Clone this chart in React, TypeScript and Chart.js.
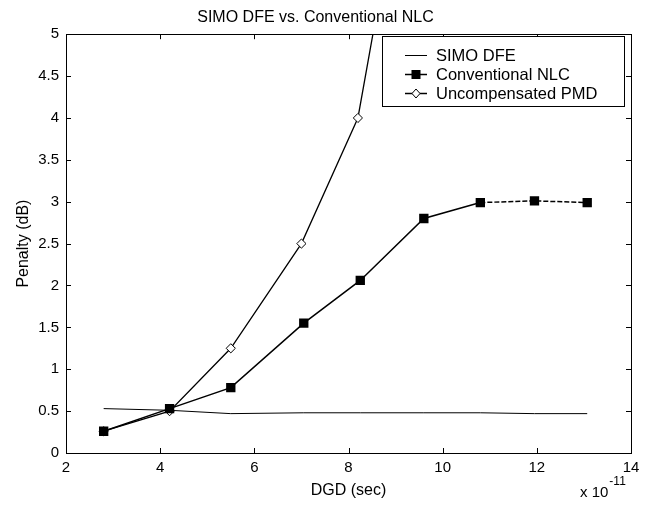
import React, { useEffect, useRef } from 'react';
import { Chart, registerables } from 'chart.js';

Chart.register(...registerables);

const titleText = 'SIMO DFE vs. Conventional NLC';
const xTitle = 'DGD (sec)';
const yTitle = 'Penalty (dB)';
const xExponentBase = 'x 10';
const xExponent = '-11';

const dgdX = [2.8, 4.2, 5.5, 7.05, 8.25, 9.6, 10.8, 11.95, 13.07];
const simoDfe = [0.53, 0.51, 0.47, 0.48, 0.48, 0.48, 0.48, 0.47, 0.47];
const conventionalNlc = [0.26, 0.53, 0.78, 1.55, 2.06, 2.8, 2.99, 3.01, 2.99];
const pmdX = [2.8, 4.2, 5.5, 7.0, 8.2, 9.6];
const uncompensatedPmd = [0.26, 0.5, 1.25, 2.5, 4.0, 8.4];

const seriesNames = ['SIMO DFE', 'Conventional NLC', 'Uncompensated PMD'];

const xTicks = [2, 4, 6, 8, 10, 12, 14];
const xTickLabels = ['2', '4', '6', '8', '10', '12', '14'];
const yTicks = [0, 0.5, 1, 1.5, 2, 2.5, 3, 3.5, 4, 4.5, 5];
const yTickLabels = ['0', '0.5', '1', '1.5', '2', '2.5', '3', '3.5', '4', '4.5', '5'];

const FONT = '"Liberation Sans", Arial, Helvetica, sans-serif';

const framePlugin = {
  id: 'frameTicks',
  afterDraw(chart: any) {
    const { ctx, chartArea: a, scales } = chart;
    const xs = scales.x;
    const ys = scales.y;
    ctx.save();
    ctx.strokeStyle = '#000';
    ctx.lineWidth = 1;
    ctx.strokeRect(Math.round(a.left) + 0.5, Math.round(a.top) + 0.5, Math.round(a.right - a.left), Math.round(a.bottom - a.top));
    const L = 5;
    ctx.beginPath();
    xTicks.forEach((v) => {
      const px = Math.round(xs.getPixelForValue(v)) + 0.5;
      ctx.moveTo(px, a.bottom);
      ctx.lineTo(px, a.bottom - L);
      ctx.moveTo(px, a.top);
      ctx.lineTo(px, a.top + L);
    });
    yTicks.forEach((v) => {
      const py = Math.round(ys.getPixelForValue(v)) + 0.5;
      ctx.moveTo(a.left, py);
      ctx.lineTo(a.left + L, py);
      ctx.moveTo(a.right, py);
      ctx.lineTo(a.right - L, py);
    });
    ctx.stroke();

    // exponent label
    ctx.fillStyle = '#000';
    ctx.textBaseline = 'middle';
    ctx.textAlign = 'left';
    ctx.font = `15px ${FONT}`;
    ctx.fillText(xExponentBase, 580, 493);
    const w = ctx.measureText(xExponentBase).width;
    ctx.font = `12px ${FONT}`;
    ctx.fillText(xExponent, 580 + w + 1, 482);

    // legend
    const boxRight = a.right - 7;
    const boxLeft = boxRight - 242;
    const boxTop = a.top + 2;
    const boxH = 70;
    ctx.fillStyle = '#fff';
    ctx.fillRect(boxLeft, boxTop, 242, boxH);
    ctx.strokeStyle = '#000';
    ctx.lineWidth = 1;
    ctx.strokeRect(Math.round(boxLeft) + 0.5, Math.round(boxTop) + 0.5, 242, boxH);
    const rows = [boxTop + 19, boxTop + 38, boxTop + 57];
    const lx0 = boxLeft + 23;
    const lx1 = boxLeft + 45;
    const mx = (lx0 + lx1) / 2;
    ctx.font = `16.5px ${FONT}`;
    ctx.textBaseline = 'middle';
    seriesNames.forEach((name, i) => {
      const y = Math.round(rows[i]) + 0.5;
      ctx.beginPath();
      ctx.lineWidth = i === 0 ? 1 : 1.5;
      ctx.strokeStyle = '#000';
      ctx.moveTo(lx0, y);
      ctx.lineTo(lx1, y);
      ctx.stroke();
      if (i === 1) {
        ctx.fillStyle = '#000';
        ctx.fillRect(mx - 4.5, y - 4.5, 9, 9);
      } else if (i === 2) {
        ctx.beginPath();
        ctx.moveTo(mx, y - 4.5);
        ctx.lineTo(mx + 4, y);
        ctx.lineTo(mx, y + 4.5);
        ctx.lineTo(mx - 4, y);
        ctx.closePath();
        ctx.fillStyle = '#fff';
        ctx.fill();
        ctx.lineWidth = 1;
        ctx.stroke();
      }
      ctx.fillStyle = '#000';
      ctx.fillText(name, boxLeft + 54, y + 1);
    });
    ctx.restore();
  },
};

export default function App() {
  const ref = useRef<HTMLCanvasElement | null>(null);
  useEffect(() => {
    if (!ref.current) return;
    Chart.defaults.font.family = FONT;
    Chart.defaults.color = '#000';
    const chart = new Chart(ref.current, {
      type: 'line',
      data: {
        datasets: [
          {
            label: seriesNames[0],
            data: dgdX.map((x, i) => ({ x, y: simoDfe[i] })),
            borderColor: '#000',
            borderWidth: 1,
            pointRadius: 0,
            tension: 0,
          },
          {
            label: seriesNames[1],
            data: dgdX.map((x, i) => ({ x, y: conventionalNlc[i] })),
            borderColor: '#000',
            borderWidth: 1.5,
            pointStyle: 'rect',
            pointRadius: 6.6,
            pointBackgroundColor: '#000',
            pointBorderColor: '#000',
            pointBorderWidth: 0,
            tension: 0,
            segment: {
              borderDash: (c: any) => (c.p0DataIndex >= 6 ? [5, 2] : undefined),
            },
          },
          {
            label: seriesNames[2],
            data: pmdX.map((x, i) => ({ x, y: uncompensatedPmd[i] })),
            borderColor: '#000',
            borderWidth: 1.3,
            pointStyle: 'rectRot',
            pointRadius: 4.6,
            pointBackgroundColor: '#fff',
            pointBorderColor: '#000',
            pointBorderWidth: 1,
            tension: 0,
          },
        ],
      },
      options: {
        responsive: false,
        animation: false,
        layout: { padding: { left: 0, right: 18, top: 0, bottom: 0 } },
        plugins: {
          legend: { display: false },
          tooltip: { enabled: false },
          title: {
            display: true,
            text: titleText,
            color: '#000',
            font: { size: 16, weight: 'normal', family: FONT },
            padding: { top: 8, bottom: 7 },
          },
        },
        scales: {
          x: {
            type: 'linear',
            min: 2,
            max: 14,
            afterBuildTicks: (s: any) => {
              s.ticks = xTicks.map((v) => ({ value: v }));
            },
            afterFit: (s: any) => {
              s.height = 55;
            },
            grid: { display: false, drawTicks: false },
            border: { display: true, color: '#000', width: 1 },
            ticks: {
              color: '#000',
              font: { size: 15, family: FONT },
              padding: 6,
              maxRotation: 0,
              autoSkip: false,
              callback: (_v: any, i: number) => xTickLabels[i],
            },
            title: {
              display: true,
              text: xTitle,
              color: '#000',
              font: { size: 16, family: FONT },
              padding: { top: 0, bottom: 8 },
            },
          },
          y: {
            type: 'linear',
            min: 0,
            max: 5,
            afterBuildTicks: (s: any) => {
              s.ticks = yTicks.map((v) => ({ value: v }));
            },
            afterFit: (s: any) => {
              s.width = 66;
            },
            grid: { display: false, drawTicks: false },
            border: { display: true, color: '#000', width: 1 },
            ticks: {
              color: '#000',
              font: { size: 15, family: FONT },
              padding: 7,
              autoSkip: false,
              callback: (_v: any, i: number) => yTickLabels[i],
            },
            title: {
              display: true,
              text: yTitle,
              color: '#000',
              font: { size: 16, family: FONT },
              padding: { top: 14, bottom: 0 },
            },
          },
        },
      },
      plugins: [framePlugin],
    });
    return () => chart.destroy();
  }, []);
  return (
    <div style={{ position: 'fixed', left: 0, top: 0, width: 649, height: 508, background: '#fff' }}>
      <canvas ref={ref} width={649} height={508} style={{ width: 649, height: 508 }} />
    </div>
  );
}
